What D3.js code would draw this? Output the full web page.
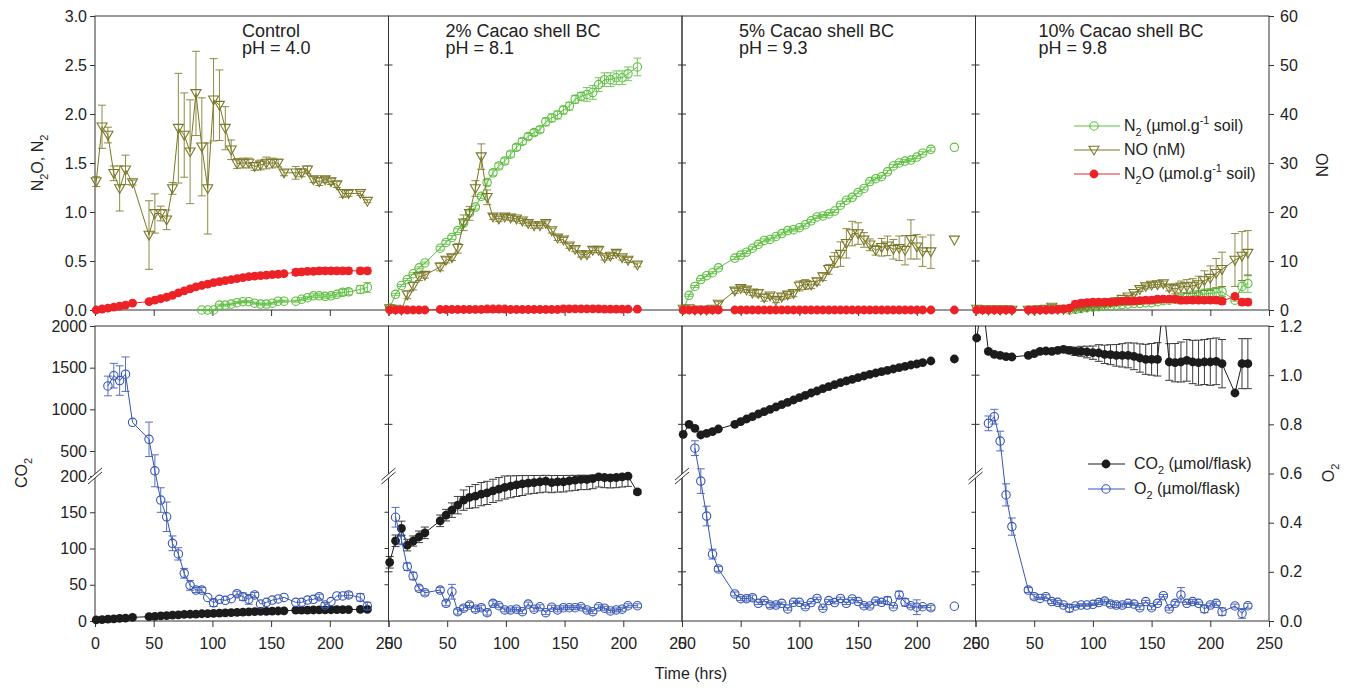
<!DOCTYPE html>
<html><head><meta charset="utf-8">
<script src="https://cdn.jsdelivr.net/npm/d3@7"></script>
<style>body{margin:0;background:#fff;} svg{display:block;font-family:"Liberation Sans",Arial,sans-serif;}</style>
</head><body><svg id="chart" width="1351" height="688"></svg>
<script>
// ---------------- DATA ----------------
const panelTitles = ["Control", "2% Cacao shell BC", "5% Cacao shell BC", "10% Cacao shell BC"];
const panelPH = ["pH = 4.0", "pH = 8.1", "pH = 9.3", "pH = 9.8"];
const xTickValues = [0, 50, 100, 150, 200, 250];
const topTickValues = [0, 0.5, 1.0, 1.5, 2.0, 2.5, 3.0];
const noTickValues = [0, 10, 20, 30, 40, 50, 60];
const co2TickValues = [0, 50, 100, 150, 200, 500, 1000, 1500, 2000];
const o2TickValues = [0, 0.2, 0.4, 0.6, 0.8, 1.0, 1.2];
const lastConnectedTime = [Infinity, Infinity, 212, Infinity];

// Panel 1 - Control
const time1 = [1,6,11,16,21,26,32,46,51,56,61,66,71,76,81,86,91,96,101,106,111,116,121,126,131,136,141,146,151,156,161,166,171,176,181,186,191,196,201,206,211,216,221,226,232];
const n2_1 = [null,null,null,null,null,null,null,null,null,null,null,null,null,null,null,null,0.0,0.0,0.0,0.05,0.05,0.06,0.075,0.085,0.085,0.07,0.06,0.06,0.07,0.09,0.09,null,0.09,0.11,0.125,0.145,0.145,0.14,0.145,0.16,0.18,0.185,null,0.21,0.23];
const n2Err1 = [0,0,0,0,0,0,0,0,0,0,0,0,0,0,0,0,0.005,0.005,0.005,0.01,0.01,0.01,0.01,0.01,0.01,0.01,0.01,0.01,0.01,0.01,0.01,0,0.01,0.015,0.015,0.02,0.02,0.02,0.02,0.02,0.03,0.03,0,0.04,0.05];
const no1 = [26.2,37.4,35.7,27.9,24.8,28.6,26.0,15.3,19.7,19.7,18.4,24.8,37.1,35.7,32.3,44.2,33.3,24.8,42.9,41.8,37.1,32.7,29.9,30.0,30.0,29.3,29.6,30.0,30.0,30.0,28.0,null,28.0,28.0,28.6,26.6,26.2,26.6,26.2,25.6,23.8,23.8,null,23.8,22.2];
const noErr1 = [1,4.4,1.6,1.5,4.6,3,0.5,7,4,1.5,2,1.2,11.2,8.6,10.6,8.6,10,9.3,8.4,7.2,4.4,2,1,1,1,0.8,1,1.2,1,0.8,0.6,0,1.3,0.8,0.8,0.6,0.8,0.6,0.6,0.6,0.8,0.6,0,0.4,0.3];
const n2o1 = [0,0.01,0.02,0.03,0.04,0.05,0.07,0.085,0.10,0.115,0.13,0.15,0.175,0.195,0.215,0.235,0.25,0.265,0.28,0.29,0.30,0.31,0.32,0.33,0.34,0.345,0.35,0.355,0.36,0.365,0.37,null,0.385,0.39,0.395,0.395,0.40,0.40,0.40,0.40,0.40,0.40,null,0.40,0.40];
const n2oErr1 = [0,0,0,0,0,0,0,0.005,0.005,0.005,0.005,0.005,0.005,0.005,0.005,0.005,0.005,0.005,0.005,0.005,0.005,0.005,0.005,0.005,0.005,0.005,0.005,0.015,0.015,0.015,0.015,0,0.03,0.03,0.03,0.03,0.03,0.03,0.03,0.03,0.03,0.03,0,0.03,0.03];
const co2_1 = [1.5,2,2.5,3,3.5,4,5,6,6.5,7,7.5,8,8.5,9,9.3,9.6,10,10.3,10.6,11,11.3,11.6,12,12.3,12.6,13,13.2,13.4,13.6,13.8,14,null,15,15,15,15.2,15.3,15.4,15.5,15.6,15.7,15.8,null,16,16];
const co2Err1 = null;
const o2_1 = [null,null,0.956,0.998,0.978,1.004,0.808,0.739,0.611,0.492,0.424,0.316,0.273,0.194,0.145,0.126,0.126,0.096,0.074,0.088,0.084,0.091,0.111,0.099,0.088,0.106,0.069,0.076,0.085,0.090,0.096,null,0.076,0.076,0.085,0.088,0.099,0.065,0.079,0.102,0.102,0.106,null,0.096,0.061];
const o2Err1 = [0,0,0.04,0.05,0.06,0.07,0,0.07,0.065,0.05,0.06,0.03,0.025,0.02,0.02,0.01,0.01,0,0.015,0,0,0,0.01,0.015,0.02,0.01,0,0,0,0,0,0,0,0,0,0,0.01,0.01,0,0,0,0.012,0,0.015,0.015];

// Panel 2 - 2% BC
const time2 = [1,6,11,16,21,26,31,44,49,54,59,64,69,74,79,84,89,94,99,104,109,114,119,124,129,134,139,144,149,154,159,164,169,174,179,184,189,194,199,204,212];
const n2_2 = [0.02,0.16,0.25,0.31,0.37,0.43,0.48,0.63,0.69,0.74,0.81,0.89,0.99,1.05,1.16,1.30,1.40,1.47,1.52,1.59,1.66,1.72,1.77,1.81,1.84,1.92,1.96,1.99,2.04,2.08,2.15,2.18,2.20,2.22,2.30,2.35,2.35,2.37,2.37,2.41,2.48];
const n2Err2 = [0.01,0.01,0.01,0.01,0.01,0.01,0.01,0.02,0.02,0.02,0.02,0.02,0.02,0.02,0.02,0.03,0.03,0.03,0.03,0.03,0.03,0.03,0.03,0.03,0.03,0.04,0.04,0.04,0.04,0.04,0.04,0.04,0.07,0.07,0.07,0.07,0.07,0.07,0.07,0.07,0.09];
const no2 = [0.3,0.2,0,3.1,4.9,6.8,7.1,8.8,10.2,10.7,12.6,17.8,19.7,24.8,31.3,23.0,19.0,18.6,19.0,18.8,18.6,18.2,17.7,17.2,17.2,17.7,16.2,14.7,14.3,13.1,12.4,11.3,11.3,12.2,12.2,10.7,11.0,11.6,10.7,10.2,9.2];
const noErr2 = [0.3,0,0,0.8,0.8,0.8,0.6,0.8,0.6,0.6,1.0,1.6,1.4,1.6,2.6,1.5,0.5,0.5,0.5,0.5,0.5,0.5,0.5,0.5,0.5,0.5,0.5,0.5,0.5,0.5,0.5,0.5,0.5,0.5,0.5,0.5,0.5,0.5,0.5,0.5,0.4];
const n2o2 = [0,0,0,0,0,0,0,0.005,0.005,0.005,0.005,0.005,0.005,0.005,0.005,0.01,0.01,0.01,0.01,0.005,0.005,0.005,0.005,0.005,0.005,0.005,0.005,0.005,0.012,0.012,0.012,0.012,0.012,0.012,0.012,0.008,0.008,0.008,0.008,0.008,0.008];
const n2oErr2 = null;
const co2_2 = [81,110.6,127.7,104.7,110.3,116.1,121.6,138.2,146,152.9,159.8,166.7,170.4,172.2,175,176.7,179.5,181.8,184.2,186,187.7,189.1,190.1,191,191.9,192.8,191,191.9,192,193.3,194.2,195.2,195.2,196.5,198.8,197.9,197.5,197.9,198.8,199.7,178];
const co2Err2 = [8,8,10,8,7,8,8,8,8,10,12,14,15,16,16,16,16,16,16,16,16,16,15,15,15,15,14,14,14,14,14,14,14,14,14,14,14,14,14,14,3];
const o2_2 = [null,0.422,0.330,0.221,0.183,0.133,0.115,0.126,0.072,0.119,0.038,0.052,0.065,0.048,0.054,0.034,0.072,0.062,0.045,0.045,0.048,0.038,0.069,0.048,0.058,0.034,0.056,0.045,0.054,0.054,0.054,0.058,0.045,0.038,0.058,0.052,0.041,0.045,0.048,0.062,0.062];
const o2Err2 = [0,0.04,0.02,0.015,0.015,0.01,0.01,0.01,0.01,0.03,0.01,0.01,0.01,0.01,0.01,0.01,0.01,0.008,0.008,0.008,0.008,0.008,0.008,0.008,0.008,0.008,0.008,0.008,0.008,0.008,0.008,0.008,0.008,0.008,0.008,0.008,0.008,0.008,0.008,0.008,0.008];

// Panel 3 - 5% BC
const time3 = [1,6,11,16,21,26,31,45,50,55,60,65,70,75,80,85,90,95,100,105,110,115,120,125,130,135,140,145,150,155,160,165,170,175,180,185,190,195,200,205,212,232];
const n2_3 = [0.0,0.15,0.24,0.31,0.35,0.38,0.43,0.53,0.56,0.59,0.63,0.67,0.71,0.72,0.75,0.78,0.81,0.82,0.84,0.87,0.91,0.95,0.96,0.98,1.01,1.07,1.12,1.15,1.20,1.24,1.31,1.34,1.36,1.41,1.47,1.50,1.52,1.53,1.56,1.60,1.64,1.66];
const n2Err3 = [0.01,0.01,0.01,0.01,0.01,0.01,0.01,0.015,0.015,0.015,0.015,0.015,0.015,0.015,0.015,0.015,0.015,0.015,0.015,0.015,0.015,0.015,0.015,0.015,0.015,0.015,0.015,0.015,0.015,0.015,0.015,0.015,0.015,0.015,0.015,0.015,0.015,0.015,0.015,0.015,0.02,0];
const no3 = [0.2,0.3,0,0,0,0.2,1.2,3.9,4.4,4.1,3.5,3.4,2.5,2.9,2.0,2.7,3.1,3.4,4.9,5.2,5.1,5.8,6.8,8.3,10.2,11.4,13.6,15.6,15.6,14.3,13.3,12.2,12.8,13.1,12.4,12.6,12.2,14.4,12.9,11.9,11.9,14.3];
const noErr3 = [0.3,0.3,0,0,0,0,0.5,0.5,0.5,0.5,0.5,0.7,0.7,0.5,0.5,0.6,0.7,0.7,1,1,0.7,0.7,0.8,1,1.5,2.5,3,2.5,2.2,1.5,1.2,1,1.8,2,2,2.5,3,4,2.5,3,3.4,0];
const n2o3 = [0,0,0,0,0,0,0,0,0,0,0,0,0,0,0,0,0,0,0,0,0,0,0,0,0,0,0,0,0,0,0,0,0,0,0,0,0,0,0,0,0,0];
const n2oErr3 = null;
const co2_3 = [700,820,772,692,712,732,764,820,852,884,912,944,972,1000,1028,1056,1084,1112,1140,1168,1196,1220,1248,1272,1296,1320,1340,1360,1380,1400,1420,1436,1452,1468,1484,1500,1516,1532,1544,1560,1580,1604];
const co2Err3 = null;
const o2_3 = [null,null,0.703,0.569,0.427,0.272,0.212,0.110,0.091,0.091,0.095,0.072,0.083,0.065,0.065,0.072,0.049,0.076,0.076,0.058,0.075,0.092,0.052,0.083,0.075,0.092,0.072,0.090,0.079,0.062,0.061,0.081,0.076,0.083,0.058,0.106,0.076,0.062,0.056,0.058,0.054,0.060];
const o2Err3 = [0,0,0.03,0.05,0.04,0.02,0.01,0.008,0.008,0.01,0.01,0.005,0.005,0.01,0.008,0.005,0.005,0.005,0.005,0.008,0.005,0.005,0.005,0.005,0.005,0.005,0.005,0.005,0.005,0.008,0.008,0.005,0.005,0.015,0.005,0.015,0.015,0.008,0.03,0.005,0.01,0];

// Panel 4 - 10% BC
const time4 = [1,6,11,16,21,26,31,45,50,55,60,65,70,75,80,85,90,95,100,105,110,115,120,125,130,135,140,145,150,155,160,165,170,175,180,185,190,195,200,205,210,221,227,232];
const n2_4 = [null,null,null,null,null,null,null,null,null,null,null,null,null,null,0.0,0.007,0.017,0.024,0.030,0.034,0.041,0.044,0.051,0.055,0.061,0.068,0.068,0.075,0.075,0.085,0.095,0.10,0.11,0.112,0.13,0.143,0.15,0.163,0.17,0.177,0.187,0.10,0.24,0.27];
const n2Err4 = [0,0,0,0,0,0,0,0,0,0,0,0,0,0,0.01,0.01,0.01,0.01,0.01,0.01,0.01,0.01,0.01,0.01,0.01,0.01,0.01,0.01,0.01,0.02,0.02,0.02,0.02,0.05,0.05,0.05,0.05,0.05,0.05,0.05,0.05,0.01,0.06,0.09];
const no4 = [0.2,0.1,0,0.1,0,0.1,0,0,0,0.1,0.2,0.6,0.2,0.1,0.2,0.4,0.5,0.7,0.9,1.1,1.3,1.5,1.7,2.2,2.7,3.4,4.2,4.8,5.1,5.2,5.4,4.5,4.3,4.7,4.8,4.9,5.2,6.0,6.5,7.5,8.3,10.2,11.0,11.6];
const noErr4 = [0.2,0.2,0.2,0.2,0.2,0.2,0.2,0.1,0.1,0.1,0.1,0.5,0.1,0.1,0.1,0.2,0.2,0.2,0.3,0.3,0.3,0.3,0.3,0.3,0.3,0.3,0.4,0.5,0.5,0.5,0.5,0.6,1.0,1.2,1.4,1.5,1.7,2.0,2.5,3.0,3.5,5.4,5.0,4.6];
const n2o4 = [0,0,0,0,0,0,0,0,0,0,0,0,0.005,0.01,0.02,0.06,0.07,0.075,0.08,0.08,0.08,0.08,0.085,0.09,0.09,0.09,0.095,0.10,0.10,0.11,0.11,0.11,0.11,0.10,0.10,0.10,0.10,0.10,0.10,0.10,0.09,0.14,0.08,0.08];
const n2oErr4 = [0,0,0,0,0,0,0,0.005,0.005,0.005,0.005,0.005,0.005,0.005,0.005,0.03,0.03,0.03,0.03,0.03,0.03,0.03,0.03,0.03,0.03,0.03,0.03,0.03,0.03,0.03,0.03,0.03,0.03,0.03,0.03,0.03,0.03,0.03,0.03,0.03,0.03,0.01,0.03,0.03];
const co2_4 = [1856,2300,1696,1660,1648,1632,1628,1648,1668,1696,1700,1696,1708,1720,1708,1696,1696,1688,1680,1676,1660,1656,1648,1648,1648,1636,1616,1600,1600,1600,2300,1568,1560,1568,1588,1568,1560,1568,1568,1576,1548,1196,1548,1548];
const co2Err4 = [20,0,20,15,15,15,15,15,15,20,20,25,25,30,40,50,60,70,80,100,110,120,130,140,150,160,170,180,190,200,0,220,230,240,250,260,270,270,280,280,290,0,300,300];
const o2_4 = [null,null,0.804,0.831,0.732,0.513,0.384,0.126,0.099,0.092,0.099,0.079,0.076,0.065,0.052,0.061,0.065,0.065,0.068,0.075,0.081,0.069,0.065,0.065,0.072,0.069,0.054,0.079,0.054,0.072,0.103,0.049,0.072,0.106,0.072,0.079,0.072,0.049,0.065,0.072,0.038,0.061,0.031,0.062];
const o2Err4 = [0,0,0.03,0.03,0.04,0.045,0.035,0.01,0.01,0.005,0.008,0.008,0.008,0.005,0.015,0.005,0.005,0.005,0.005,0.008,0.008,0.01,0.01,0.008,0.005,0.005,0.008,0.005,0.008,0.005,0.005,0.005,0.008,0.03,0.005,0.008,0.005,0.015,0.008,0.008,0.015,0.008,0.02,0.01];

const panels = [
  {time: time1, n2: n2_1, n2Err: n2Err1, no: no1, noErr: noErr1, n2o: n2o1, n2oErr: n2oErr1, co2: co2_1, co2Err: co2Err1, o2: o2_1, o2Err: o2Err1},
  {time: time2, n2: n2_2, n2Err: n2Err2, no: no2, noErr: noErr2, n2o: n2o2, n2oErr: n2oErr2, co2: co2_2, co2Err: co2Err2, o2: o2_2, o2Err: o2Err2},
  {time: time3, n2: n2_3, n2Err: n2Err3, no: no3, noErr: noErr3, n2o: n2o3, n2oErr: n2oErr3, co2: co2_3, co2Err: co2Err3, o2: o2_3, o2Err: o2Err3},
  {time: time4, n2: n2_4, n2Err: n2Err4, no: no4, noErr: noErr4, n2o: n2o4, n2oErr: n2oErr4, co2: co2_4, co2Err: co2Err4, o2: o2_4, o2Err: o2Err4}
];

// ---------------- LAYOUT / STYLE ----------------
const COL = {n2: "#5cbf3f", no: "#7a7826", n2o: "#ec2227", co2: "#1c1c1c", o2: "#3856b3"};
const AX = "#333";
const TXT = "#222";
const X0 = 95, W = 293.5;
const TOP = [16, 310], BOT = [326, 621];

const svg = d3.select("#chart");
const yTop = d3.scaleLinear().domain([0, 3]).range([TOP[1], TOP[0]]);
const yNO = d3.scaleLinear().domain([0, 60]).range([TOP[1], TOP[0]]);
const yCO2 = d3.scaleLinear().domain([0, 200, 2000]).range([BOT[1], 476, BOT[0]]);
const yO2 = d3.scaleLinear().domain([0, 1.2]).range([BOT[1], BOT[0]]);

function rich(t, parts, fs) {
  let shift = 0;
  parts.forEach(([s, k]) => {
    const target = k === "sub" ? fs * 0.32 : k === "sup" ? -fs * 0.42 : 0;
    t.append("tspan").attr("dy", target - shift).attr("font-size", k ? fs * 0.68 : fs).text(s);
    shift = target;
  });
}

function marker(g, type, cx, cy, color) {
  if (type === "circleOpen") {
    g.append("circle").attr("cx", cx).attr("cy", cy).attr("r", 4.2).attr("fill", "none").attr("stroke", color).attr("stroke-width", 1.1);
  } else if (type === "circleFilled") {
    g.append("circle").attr("cx", cx).attr("cy", cy).attr("r", 4.4).attr("fill", color);
  } else if (type === "tri") {
    g.append("path").attr("d", `M${cx-5},${cy-3.8}L${cx+5},${cy-3.8}L${cx},${cy+5}Z`).attr("fill", "none").attr("stroke", color).attr("stroke-width", 1.1);
  }
}

function drawSeries(g, x, y, time, vals, errs, color, type, lastT) {
  const pts = time.map((t, k) => ({t, v: vals[k], e: errs ? (errs[k] || 0) : 0})).filter(p => p.v != null);
  const lp = pts.filter(p => p.t <= lastT);
  g.append("path").datum(lp)
    .attr("d", d3.line().x(p => x(p.t)).y(p => y(p.v)))
    .attr("fill", "none").attr("stroke", color).attr("stroke-width", 1);
  const eb = g.append("g").attr("stroke", color).attr("stroke-width", 1).attr("opacity", 0.85).attr("fill", "none");
  pts.filter(p => p.e > 0).forEach(p => {
    const cx = x(p.t), y1 = y(p.v - p.e), y2 = y(p.v + p.e);
    eb.append("path").attr("d", `M${cx},${y1}V${y2}M${cx-4},${y1}H${cx+4}M${cx-4},${y2}H${cx+4}`);
  });
  const mg = g.append("g");
  pts.forEach(p => marker(mg, type, x(p.t), y(p.v), color));
}

const defs = svg.append("defs");

panels.forEach((P, i) => {
  const x0 = X0 + i * W;
  const x = d3.scaleLinear().domain([0, 250]).range([x0, x0 + W]);

  // clip paths
  defs.append("clipPath").attr("id", "ct" + i).append("rect")
    .attr("x", x0 - 6).attr("y", TOP[0]).attr("width", W + 12).attr("height", TOP[1] - TOP[0] + 6);
  defs.append("clipPath").attr("id", "cb" + i).append("rect")
    .attr("x", x0 - 6).attr("y", BOT[0]).attr("width", W + 12).attr("height", BOT[1] - BOT[0] + 6);

  // frames
  svg.append("rect").attr("x", x0).attr("y", TOP[0]).attr("width", W).attr("height", TOP[1] - TOP[0])
    .attr("fill", "none").attr("stroke", AX).attr("stroke-width", 1);
  svg.append("rect").attr("x", x0).attr("y", BOT[0]).attr("width", W).attr("height", BOT[1] - BOT[0])
    .attr("fill", "none").attr("stroke", AX).attr("stroke-width", 1);

  // x axes
  const gxt = svg.append("g").attr("transform", `translate(0,${TOP[1]})`)
    .call(d3.axisBottom(x).tickValues(xTickValues).tickSize(6).tickSizeOuter(0).tickFormat(""));
  gxt.select(".domain").remove();
  const gxb = svg.append("g").attr("transform", `translate(0,${BOT[1]})`)
    .call(d3.axisBottom(x).tickValues(xTickValues).tickSize(6).tickSizeOuter(0).tickPadding(11));
  gxb.select(".domain").remove();
  gxb.selectAll("text").attr("font-size", 16).attr("fill", TXT).attr("font-family", "Liberation Sans, Arial, sans-serif");
  [gxt, gxb].forEach(g => g.selectAll("line").attr("stroke", AX));

  if (i === 0) {
    const gl = svg.append("g").attr("transform", `translate(${x0},0)`)
      .call(d3.axisLeft(yTop).tickValues(topTickValues).tickSize(5).tickSizeOuter(0).tickFormat(d3.format(".1f")));
    gl.select(".domain").remove();
    const gl2 = svg.append("g").attr("transform", `translate(${x0},0)`)
      .call(d3.axisLeft(yCO2).tickValues(co2TickValues).tickSize(5).tickSizeOuter(0).tickFormat(d3.format("d")));
    gl2.select(".domain").remove();
    [gl, gl2].forEach(g => {
      g.selectAll("text").attr("font-size", 16).attr("fill", TXT).attr("font-family", "Liberation Sans, Arial, sans-serif");
      g.selectAll("line").attr("stroke", AX);
    });
  } else {
    // divider ticks
    const dg = svg.append("g").attr("stroke", AX).attr("stroke-width", 1);
    topTickValues.slice(1, -1).forEach(v => {
      dg.append("line").attr("x1", x0 - 4).attr("x2", x0 + 4).attr("y1", yTop(v)).attr("y2", yTop(v));
    });
    [50, 100, 150].forEach(v => {
      dg.append("line").attr("x1", x0 - 4).attr("x2", x0).attr("y1", yCO2(v)).attr("y2", yCO2(v));
    });
    [0.2, 0.8, 1.0].forEach(v => {
      dg.append("line").attr("x1", x0 - 4).attr("x2", x0 + 4).attr("y1", yO2(v)).attr("y2", yO2(v));
    });
  }
  if (i === 3) {
    const gr = svg.append("g").attr("transform", `translate(${x0 + W},0)`)
      .call(d3.axisRight(yNO).tickValues(noTickValues).tickSize(5).tickSizeOuter(0).tickPadding(6));
    gr.select(".domain").remove();
    const gr2 = svg.append("g").attr("transform", `translate(${x0 + W},0)`)
      .call(d3.axisRight(yO2).tickValues(o2TickValues).tickSize(5).tickSizeOuter(0).tickPadding(6).tickFormat(d3.format(".1f")));
    gr2.select(".domain").remove();
    [gr, gr2].forEach(g => {
      g.selectAll("text").attr("font-size", 16).attr("fill", TXT).attr("font-family", "Liberation Sans, Arial, sans-serif");
      g.selectAll("line").attr("stroke", AX);
    });
  }

  // axis break marks
  const by = 476;
  svg.append("path").attr("d", `M${x0-7},${by+4}L${x0+7},${by-8}L${x0+7},${by-4}L${x0-7},${by+8}Z`).attr("fill", "#fff");
  svg.append("path").attr("d", `M${x0-7},${by+4}L${x0+7},${by-8}M${x0-7},${by+8}L${x0+7},${by-4}`)
    .attr("stroke", AX).attr("stroke-width", 1).attr("fill", "none");

  // titles
  const tx = x0 + (i === 0 ? 147 : i === 3 ? 63 : 57);
  svg.append("text").attr("x", tx).attr("y", 37).attr("font-size", 18).attr("fill", TXT).text(panelTitles[i]);
  svg.append("text").attr("x", tx).attr("y", 54).attr("font-size", 18).attr("fill", TXT).text(panelPH[i]);

  // series (top)
  const gt = svg.append("g").attr("clip-path", `url(#ct${i})`);
  drawSeries(gt, x, yTop, P.time, P.n2, P.n2Err, COL.n2, "circleOpen", lastConnectedTime[i]);
  drawSeries(gt, x, yNO, P.time, P.no, P.noErr, COL.no, "tri", lastConnectedTime[i]);
  drawSeries(gt, x, yTop, P.time, P.n2o, P.n2oErr, COL.n2o, "circleFilled", lastConnectedTime[i]);
  // series (bottom)
  const gb = svg.append("g").attr("clip-path", `url(#cb${i})`);
  drawSeries(gb, x, yCO2, P.time, P.co2, P.co2Err, COL.co2, "circleFilled", lastConnectedTime[i]);
  drawSeries(gb, x, yO2, P.time, P.o2, P.o2Err, COL.o2, "circleOpen", lastConnectedTime[i]);
});

// axis titles
const lab1 = svg.append("text").attr("transform", "translate(43,163) rotate(-90)").attr("text-anchor", "middle").attr("fill", TXT);
rich(lab1, [["N"], ["2", "sub"], ["O, N"], ["2", "sub"]], 16);
const lab2 = svg.append("text").attr("transform", "translate(27,473) rotate(-90)").attr("text-anchor", "middle").attr("fill", TXT);
rich(lab2, [["CO"], ["2", "sub"]], 16);
svg.append("text").attr("transform", "translate(1328,165) rotate(-90)").attr("text-anchor", "middle").attr("fill", TXT).attr("font-size", 16).text("NO");
const lab4 = svg.append("text").attr("transform", "translate(1334,473) rotate(-90)").attr("text-anchor", "middle").attr("fill", TXT);
rich(lab4, [["O"], ["2", "sub"]], 16);
svg.append("text").attr("x", 691).attr("y", 679).attr("text-anchor", "middle").attr("font-size", 16).attr("fill", TXT).text("Time (hrs)");

// legends
const legTop = [
  {color: COL.n2, type: "circleOpen", parts: [["N"], ["2", "sub"], [" (µmol.g"], ["-1", "sup"], [" soil)"]], y: 126},
  {color: COL.no, type: "tri", parts: [["NO (nM)"]], y: 150},
  {color: COL.n2o, type: "circleFilled", parts: [["N"], ["2", "sub"], ["O (µmol.g"], ["-1", "sup"], [" soil)"]], y: 174}
];
legTop.forEach(d => {
  const g = svg.append("g");
  g.append("line").attr("x1", 1074).attr("x2", 1120).attr("y1", d.y).attr("y2", d.y).attr("stroke", d.color).attr("stroke-width", 1.2);
  marker(g, d.type, 1094, d.y, d.color);
  const t = g.append("text").attr("x", 1124).attr("y", d.y + 5).attr("fill", TXT);
  rich(t, d.parts, 16);
});
const legBot = [
  {color: COL.co2, type: "circleFilled", parts: [["CO"], ["2", "sub"], [" (µmol/flask)"]], y: 464},
  {color: COL.o2, type: "circleOpen", parts: [["O"], ["2", "sub"], [" (µmol/flask)"]], y: 489}
];
legBot.forEach(d => {
  const g = svg.append("g");
  g.append("line").attr("x1", 1088).attr("x2", 1125).attr("y1", d.y).attr("y2", d.y).attr("stroke", d.color).attr("stroke-width", 1.2);
  marker(g, d.type, 1106, d.y, d.color);
  const t = g.append("text").attr("x", 1134).attr("y", d.y + 5).attr("fill", TXT);
  rich(t, d.parts, 16);
});
</script>
</body></html>
